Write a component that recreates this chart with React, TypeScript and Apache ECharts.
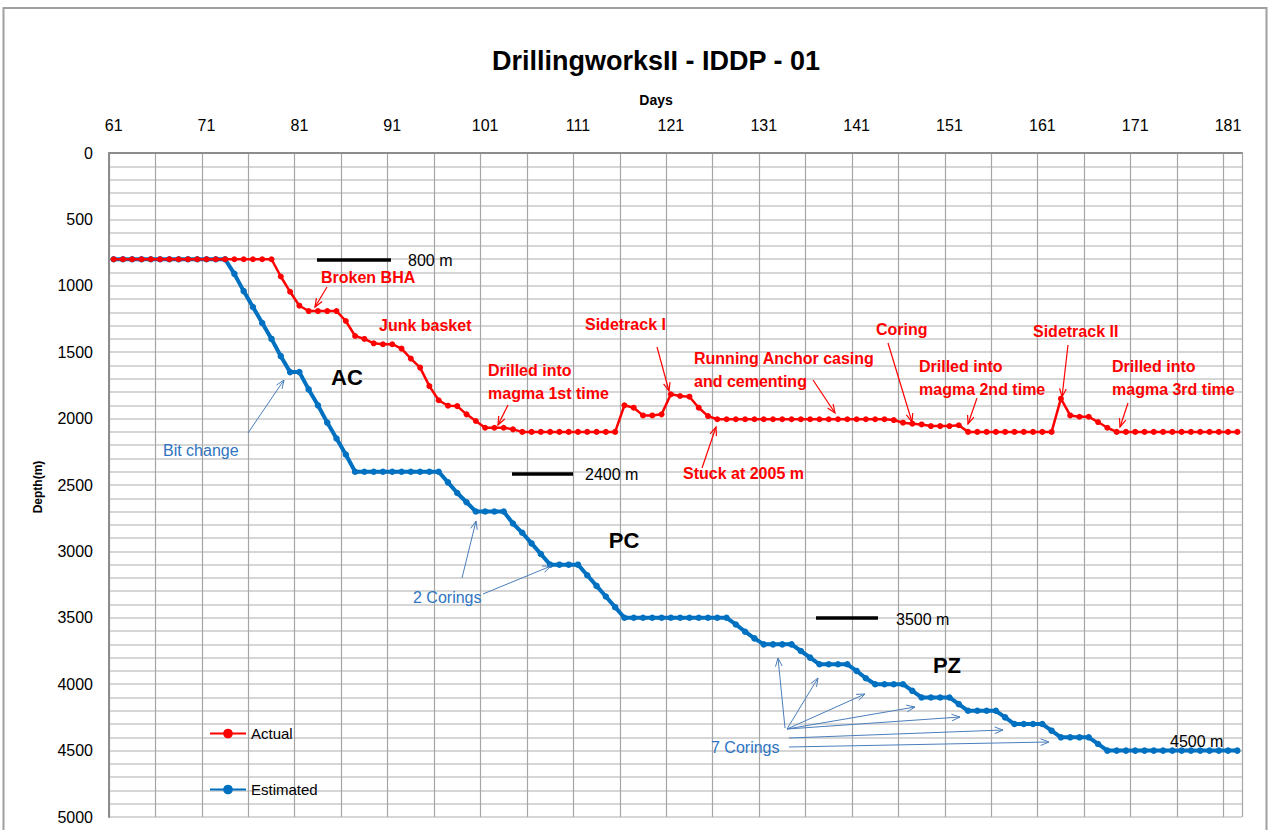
import React, { useEffect, useRef } from "react";
import * as echarts from "echarts";

const FONT = "'Liberation Sans', Arial, Helvetica, sans-serif";

const days = [
  61, 62, 63, 64, 65, 66, 67, 68, 69, 70, 71, 72, 73, 74, 75, 76, 77, 78, 79, 80,
  81, 82, 83, 84, 85, 86, 87, 88, 89, 90, 91, 92, 93, 94, 95, 96, 97, 98, 99, 100,
  101, 102, 103, 104, 105, 106, 107, 108, 109, 110, 111, 112, 113, 114, 115, 116, 117, 118, 119, 120,
  121, 122, 123, 124, 125, 126, 127, 128, 129, 130, 131, 132, 133, 134, 135, 136, 137, 138, 139, 140,
  141, 142, 143, 144, 145, 146, 147, 148, 149, 150, 151, 152, 153, 154, 155, 156, 157, 158, 159, 160,
  161, 162, 163, 164, 165, 166, 167, 168, 169, 170, 171, 172, 173, 174, 175, 176, 177, 178, 179, 180,
  181, 182,
];

// Actual depth (m), one value per day 61..182
const actualDepth = [
  800, 800, 800, 800, 800, 800, 800, 800, 800, 800, 800, 800, 800, 800, 800, 800, 800, 800, // 61-78
  930, 1045, 1150, 1190, 1190, 1190, 1190, 1265, 1378, 1400, 1433, 1440, 1440, 1473, 1548, 1616, // 79-94
  1755, 1862, 1903, 1906, 1968, 2018, 2069, 2069, 2069, 2081, // 95-104
  2100, 2100, 2100, 2100, 2100, 2100, 2100, 2100, 2100, 2100, 2100, // 105-115
  1900, 1918, 1976, 1976, 1968, 1817, 1830, 1835, 1918, 1981, // 116-125
  2005, 2005, 2005, 2005, 2005, 2005, 2005, 2005, 2005, 2005, 2005, 2005, 2005, 2005, 2005, 2005, 2005, 2005, 2005, // 126-144
  2011, 2031, 2038, 2044, 2056, 2056, 2056, 2050, // 145-152
  2100, 2100, 2100, 2100, 2100, 2100, 2100, 2100, 2100, 2100, // 153-162
  1850, 1976, 1986, 1986, 2026, 2069, // 163-168
  2100, 2100, 2100, 2100, 2100, 2100, 2100, 2100, 2100, 2100, 2100, 2100, 2100, 2100, // 169-182
];

// Estimated depth (m), one value per day 61..182
const estimatedDepth = [
  800, 800, 800, 800, 800, 800, 800, 800, 800, 800, 800, 800, 800, // 61-73
  910, 1040, 1160, 1280, 1400, 1530, 1650, 1650, 1780, 1900, 2030, 2150, 2270, 2400, // 74-87
  2400, 2400, 2400, 2400, 2400, 2400, 2400, 2400, 2400, // 88-96
  2480, 2560, 2630, 2700, 2700, 2700, 2700, // 97-103
  2790, 2860, 2940, 3020, 3100, 3100, 3100, 3100, // 104-111
  3180, 3260, 3340, 3420, 3500, // 112-116
  3500, 3500, 3500, 3500, 3500, 3500, 3500, 3500, 3500, 3500, 3500, // 117-127
  3550, 3605, 3655, 3700, 3700, 3700, 3700, // 128-134
  3750, 3800, 3850, 3850, 3850, 3850, // 135-140
  3900, 3955, 4000, 4000, 4000, 4000, // 141-146
  4050, 4100, 4100, 4100, 4100, // 147-151
  4150, 4200, 4200, 4200, 4200, // 152-156
  4250, 4300, 4300, 4300, 4300, // 157-161
  4350, 4400, 4400, 4400, 4400, // 162-166
  4450, 4500, // 167-168
  4500, 4500, 4500, 4500, 4500, 4500, 4500, 4500, 4500, 4500, 4500, 4500, 4500, 4500, // 169-182
];

const seriesNames = ["Actual", "Estimated"];
const titleText = "DrillingworksII - IDDP - 01";
const xAxisTitle = "Days";
const yAxisTitle = "Depth(m)";

const RED = "#ff0000";
const BLUE = "#0070c0";
const BLUE_TEXT = "#2e74c2";
const BLUE_ARROW = "#4a7ebb";

function arrow(x1: number, y1: number, x2: number, y2: number, color: string, w = 1, head = 9) {
  const ang = Math.atan2(y2 - y1, x2 - x1);
  const a1 = ang + Math.PI - 0.38;
  const a2 = ang + Math.PI + 0.38;
  return [
    { type: "line", z: 100, shape: { x1, y1, x2, y2 }, style: { stroke: color, lineWidth: w } },
    {
      type: "polyline",
      z: 100,
      shape: {
        points: [
          [x2 + head * Math.cos(a1), y2 + head * Math.sin(a1)],
          [x2, y2],
          [x2 + head * Math.cos(a2), y2 + head * Math.sin(a2)],
        ],
      },
      style: { stroke: color, lineWidth: w, fill: null },
    },
  ];
}

function txt(x: number, y: number, text: string, color: string, size: number, weight = "normal", align = "left") {
  return {
    type: "text",
    z: 100,
    x,
    y,
    style: {
      text,
      fill: color,
      fontSize: size,
      fontWeight: weight,
      fontFamily: FONT,
      align,
      verticalAlign: "middle",
    },
  };
}

function bar(x1: number, x2: number, y: number) {
  return { type: "line", z: 100, shape: { x1, y1: y, x2, y2: y }, style: { stroke: "#000", lineWidth: 3.5 } };
}

export default function App() {
  const ref = useRef<HTMLDivElement>(null);
  useEffect(() => {
    const chart = echarts.init(ref.current!, null, { renderer: "svg" });

    const graphics: any[] = [
      // outer frame
      { type: "rect", z: 0, shape: { x: 3.5, y: 8, width: 1263, height: 840 }, style: { fill: null, stroke: "#a0a0a0", lineWidth: 2 } },
      txt(656, 61, titleText, "#000", 27, "bold", "center"),
      txt(656, 100, xAxisTitle, "#000", 14, "bold", "center"),
      { ...txt(38, 487, yAxisTitle, "#000", 12, "bold", "center"), rotation: Math.PI / 2 },

      // red notes
      txt(321, 277, "Broken BHA", RED, 16, "bold"),
      txt(379, 325, "Junk basket", RED, 16, "bold"),
      txt(488, 370, "Drilled into", RED, 16, "bold"),
      txt(488, 393, "magma 1st time", RED, 16, "bold"),
      txt(585, 324, "Sidetrack I", RED, 16, "bold"),
      txt(694, 358, "Running Anchor casing", RED, 16, "bold"),
      txt(694, 381, "and cementing", RED, 16, "bold"),
      txt(683, 473, "Stuck at 2005 m", RED, 16, "bold"),
      txt(876, 329, "Coring", RED, 16, "bold"),
      txt(919, 366, "Drilled into", RED, 16, "bold"),
      txt(919, 389, "magma 2nd time", RED, 16, "bold"),
      txt(1033, 331, "Sidetrack II", RED, 16, "bold"),
      txt(1112, 366, "Drilled into", RED, 16, "bold"),
      txt(1112, 389, "magma 3rd time", RED, 16, "bold"),
      ...arrow(327, 287, 315, 307, RED, 1.2),
      ...arrow(508, 405, 498, 425, RED, 1.2),
      ...arrow(657, 347, 669, 391, RED, 1.2),
      ...arrow(813, 380, 835, 413, RED, 1.2),
      ...arrow(702, 468, 716, 427, RED, 1.2),
      ...arrow(888, 343, 912, 422, RED, 1.2),
      ...arrow(977, 398, 968, 424, RED, 1.2),
      ...arrow(1068, 345, 1062, 397, RED, 1.2),
      ...arrow(1128, 403, 1120, 427, RED, 1.2),

      // black depth markers
      bar(317, 391, 260),
      txt(408, 260, "800 m", "#000", 16),
      bar(512, 573, 474),
      txt(585, 474, "2400 m", "#000", 16),
      bar(816, 878, 618),
      txt(896, 619, "3500 m", "#000", 16),
      txt(1170, 741, "4500 m", "#000", 16),
      txt(347, 377, "AC", "#000", 22, "bold", "center"),
      txt(624, 540, "PC", "#000", 22, "bold", "center"),
      txt(947, 665, "PZ", "#000", 22, "bold", "center"),

      // blue notes
      txt(163, 450, "Bit change", BLUE_TEXT, 16),
      txt(413, 597, "2 Corings", BLUE_TEXT, 16),
      txt(711, 747, "7 Corings", BLUE_TEXT, 16),
      ...arrow(248, 433, 284, 380, BLUE_ARROW, 1),
      ...arrow(462, 578, 476, 521, BLUE_ARROW, 1),
      ...arrow(483, 594, 551, 566, BLUE_ARROW, 1),
      ...arrow(785, 728, 778, 658, BLUE_ARROW, 1),
      ...arrow(787, 729, 818, 678, BLUE_ARROW, 1),
      ...arrow(787, 729, 865, 694, BLUE_ARROW, 1),
      ...arrow(787, 729, 915, 707, BLUE_ARROW, 1),
      ...arrow(787, 729, 960, 717, BLUE_ARROW, 1),
      ...arrow(789, 738, 1003, 730, BLUE_ARROW, 1),
      ...arrow(789, 747, 1049, 742, BLUE_ARROW, 1),
    ];

    const option: any = {
      animation: false,
      backgroundColor: "#fff",
      textStyle: { fontFamily: FONT },
      grid: { left: 109, right: 29, top: 153, bottom: 13, containLabel: false },
      legend: {
        data: seriesNames,
        orient: "vertical",
        left: 204,
        top: 721,
        itemGap: 41,
        itemWidth: 36,
        itemHeight: 12,
        itemStyle: { borderWidth: 0 },
        textStyle: { fontSize: 15, color: "#000", fontFamily: FONT },
      },
      xAxis: [
        {
          type: "category",
          data: days.map(String),
          position: "top",
          boundaryGap: true,
          axisLine: { lineStyle: { color: "#8c8c8c", width: 2 } },
          axisTick: { show: false },
          axisLabel: {
            interval: (i: number) => i % 10 === 0,
            margin: 20,
            fontSize: 16,
            color: "#000",
            fontFamily: FONT,
          },
          splitLine: {
            show: true,
            interval: (i: number) => i % 5 === 0,
            lineStyle: { color: "#a6a6a6", width: 1.2 },
          },
        },
      ],
      yAxis: {
        type: "value",
        inverse: true,
        min: 0,
        max: 5000,
        interval: 500,
        axisLine: { show: true, lineStyle: { color: "#8c8c8c", width: 2 } },
        axisTick: { show: false },
        axisLabel: {
          fontSize: 16,
          color: "#000",
          margin: 16,
          fontFamily: FONT,
          formatter: (v: number) => String(v),
        },
        splitLine: { show: true, lineStyle: { color: "#c8c8c8", width: 1.5 } },
        minorTick: { show: false, splitNumber: 5 },
        minorSplitLine: { show: true, lineStyle: { color: "#c8c8c8", width: 1.5 } },
      },
      series: [
        {
          name: seriesNames[1],
          type: "line",
          data: estimatedDepth,
          symbol: "circle",
          symbolSize: 6.5,
          showAllSymbol: true,
          lineStyle: { color: BLUE, width: 4 },
          itemStyle: { color: BLUE },
          z: 2,
        },
        {
          name: seriesNames[0],
          type: "line",
          data: actualDepth,
          symbol: "circle",
          symbolSize: 6,
          showAllSymbol: true,
          lineStyle: { color: RED, width: 2.5 },
          itemStyle: { color: RED },
          z: 3,
        },
      ],
      graphic: graphics,
    };
    chart.setOption(option);
    return () => chart.dispose();
  }, []);
  return (
    <div
      ref={ref}
      style={{ position: "fixed", left: 0, top: 0, width: 1271, height: 830, background: "#fff" }}
    />
  );
}
